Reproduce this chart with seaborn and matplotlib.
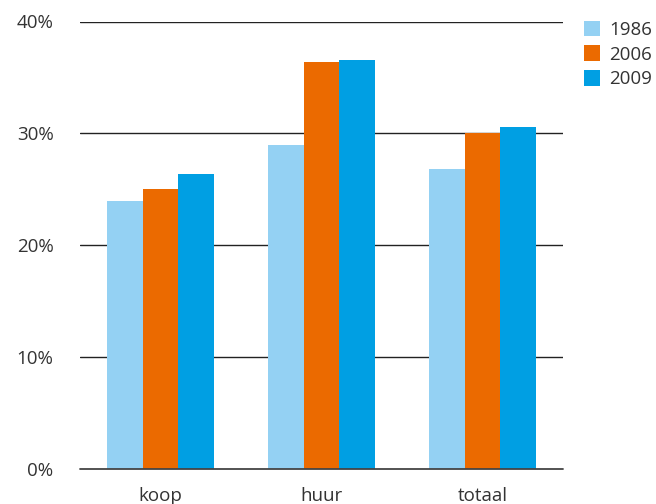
import matplotlib
matplotlib.use("Agg")
import matplotlib.pyplot as plt
import seaborn as sns
import pandas as pd
from matplotlib.patches import Patch

categories = ["koop", "huur", "totaal"]
years = ["1986", "2006", "2009"]
values_1986 = [24.0, 29.0, 26.8]
values_2006 = [25.0, 36.4, 30.0]
values_2009 = [26.4, 36.6, 30.6]
yticks = [0, 10, 20, 30, 40]
ytick_labels = ["0%", "10%", "20%", "30%", "40%"]
colors = ["#94d1f3", "#eb6a00", "#009fe3"]

rows = []
for yr, vals in zip(years, [values_1986, values_2006, values_2009]):
    for c, v in zip(categories, vals):
        rows.append({"cat": c, "year": yr, "value": v})
df = pd.DataFrame(rows)

sns.set_theme(style="white")
plt.rcParams["font.family"] = ["Open Sans", "DejaVu Sans"]
text_color = "#333333"

fig = plt.figure(figsize=(6.56, 5.04), dpi=100)
ax = fig.add_axes([80/656, 1-469/504, (563-80)/656, (469-21.5)/504])

sns.barplot(data=df, x="cat", y="value", hue="year", hue_order=years,
            order=categories, palette=colors, width=0.665, gap=0,
            saturation=1, ax=ax, legend=False, edgecolor="none", linewidth=0)
for p in ax.patches:
    p.set_zorder(3)

ax.set_ylim(0, 40)
ax.set_xlim(-0.5, 2.5)
ax.set_yticks(yticks)
ax.set_yticklabels(ytick_labels)
for y in yticks:
    if y > 0:
        ax.axhline(y, color="#222222", lw=1.0, zorder=1)
    else:
        ax.axhline(y, color="#444444", lw=1.3, zorder=4, clip_on=False)
for s in ax.spines.values():
    s.set_visible(False)
ax.tick_params(axis="both", length=0, labelsize=13.5, colors=text_color)
ax.tick_params(axis="y", pad=19)
ax.tick_params(axis="x", pad=13)
ax.set_xlabel("")
ax.set_ylabel("")
ax.grid(False)

handles = [Patch(facecolor=c, edgecolor="none") for c in colors]
leg = fig.legend(handles, years, loc="upper left", bbox_to_anchor=(576/656, 1-13/504),
                 frameon=False, fontsize=13.5, handlelength=0.9, handleheight=0.9,
                 handletextpad=0.45, labelspacing=0.35, borderaxespad=0)
for t in leg.get_texts():
    t.set_color(text_color)

fig.savefig("out.png", dpi=100)
